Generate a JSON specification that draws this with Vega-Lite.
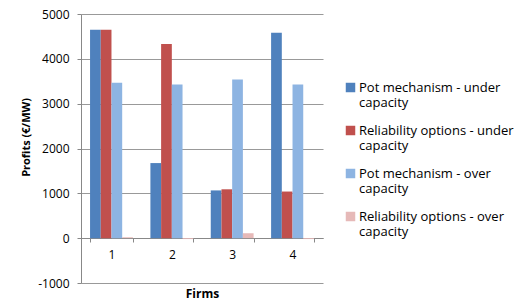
{
  "$schema": "https://vega.github.io/schema/vega-lite/v6.json",
  "autosize": "none",
  "width": 242,
  "height": 269,
  "padding": {"left": 81, "top": 14, "right": 193, "bottom": 21},
  "background": "white",
  "config": {
    "font": "Open Sans",
    "view": {"stroke": null}
  },
  "data": {
    "values": [
      {"firm": "1", "series": "Pot mechanism - under capacity", "profit": 4650},
      {"firm": "1", "series": "Reliability options - under capacity", "profit": 4650},
      {"firm": "1", "series": "Pot mechanism - over capacity", "profit": 3465},
      {"firm": "1", "series": "Reliability options - over capacity", "profit": 20},
      {"firm": "2", "series": "Pot mechanism - under capacity", "profit": 1675},
      {"firm": "2", "series": "Reliability options - under capacity", "profit": 4330},
      {"firm": "2", "series": "Pot mechanism - over capacity", "profit": 3430},
      {"firm": "2", "series": "Reliability options - over capacity", "profit": -20},
      {"firm": "3", "series": "Pot mechanism - under capacity", "profit": 1065},
      {"firm": "3", "series": "Reliability options - under capacity", "profit": 1090},
      {"firm": "3", "series": "Pot mechanism - over capacity", "profit": 3540},
      {"firm": "3", "series": "Reliability options - over capacity", "profit": 110},
      {"firm": "4", "series": "Pot mechanism - under capacity", "profit": 4580},
      {"firm": "4", "series": "Reliability options - under capacity", "profit": 1040},
      {"firm": "4", "series": "Pot mechanism - over capacity", "profit": 3430},
      {"firm": "4", "series": "Reliability options - over capacity", "profit": -20}
    ]
  },
  "mark": {"type": "bar"},
  "encoding": {
    "x": {
      "field": "firm",
      "type": "nominal",
      "scale": {"paddingInner": 0.29, "paddingOuter": 0.15},
      "axis": {
        "title": "Firms",
        "titleFontSize": 12,
        "titleFontWeight": "bold",
        "titleColor": "#000",
        "titlePadding": 28,
        "labelAngle": 0,
        "labelFontSize": 12,
        "labelColor": "#000",
        "labelPadding": 7,
        "offset": -45,
        "domainColor": "#888",
        "tickColor": "#888",
        "tickBand": "extent",
        "tickSize": 4
      }
    },
    "xOffset": {
      "field": "series",
      "type": "nominal",
      "sort": ["Pot mechanism - under capacity", "Reliability options - under capacity", "Pot mechanism - over capacity", "Reliability options - over capacity"]
    },
    "y": {
      "field": "profit",
      "type": "quantitative",
      "scale": {"domain": [-1000, 5000], "nice": false},
      "axis": {
        "title": "Profits (€/MW)",
        "titleFontSize": 11,
        "titleFontWeight": "bold",
        "titleColor": "#000",
        "titlePadding": 6,
        "titleY": 123,
        "values": [-1000, 0, 1000, 2000, 3000, 4000, 5000],
        "labelExpr": "'' + datum.value",
        "labelFontSize": 12,
        "labelColor": "#000",
        "labelPadding": 8,
        "domainColor": "#888",
        "tickColor": "#888",
        "tickSize": 4,
        "gridColor": "#999",
        "gridOpacity": 1
      }
    },
    "color": {
      "field": "series",
      "type": "nominal",
      "sort": ["Pot mechanism - under capacity", "Reliability options - under capacity", "Pot mechanism - over capacity", "Reliability options - over capacity"],
      "scale": {
        "domain": ["Pot mechanism - under capacity", "Reliability options - under capacity", "Pot mechanism - over capacity", "Reliability options - over capacity"],
        "range": ["#4F81BD", "#C0504D", "#8DB4E2", "#E6B9B8"]
      },
      "legend": {
        "title": null,
        "orient": "none",
        "legendX": 263,
        "legendY": 67,
        "symbolType": "square",
        "symbolSize": 90,
        "symbolStrokeWidth": 0,
        "labelFontSize": 13,
        "labelColor": "#000",
        "labelLimit": 200,
        "labelOffset": 2,
        "labelBaseline": "middle",
        "labelExpr": "[slice(datum.label, 0, -9), 'capacity']",
        "rowPadding": 14
      }
    }
  }
}
